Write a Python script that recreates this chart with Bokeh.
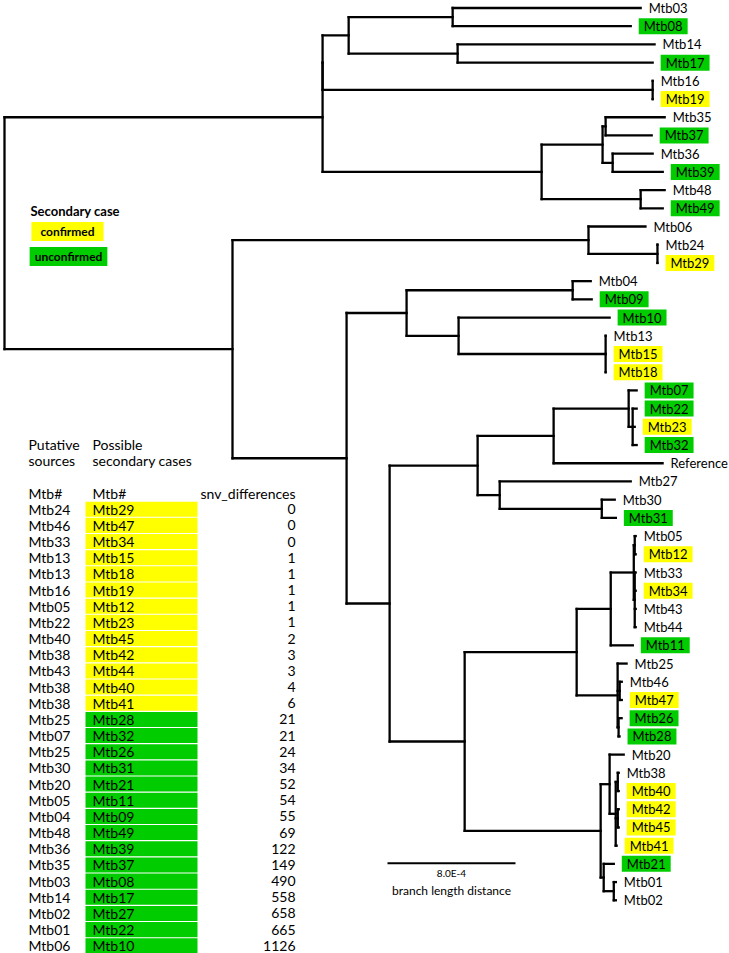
from bokeh.plotting import figure
from bokeh.models import Range1d, ColumnDataSource
from bokeh.embed import file_html
from bokeh.resources import INLINE
from bokeh.core.properties import value

# ---------------- data ----------------
# phylogeny: node, parent, branch length (units of 1e-4)
NODE = ["root",
        "A", "A12", "A1", "A1a", "Mtb03", "Mtb08", "A1b", "Mtb14", "Mtb17",
        "A2", "Mtb16", "Mtb19",
        "A3", "A3a", "A3a1", "Mtb35", "Mtb37", "A3a2", "Mtb36", "Mtb39", "A3b", "Mtb48", "Mtb49",
        "B", "B1", "Mtb06", "B1b", "Mtb24", "Mtb29",
        "B2", "B2a", "B2a1", "Mtb04", "Mtb09", "B2a2", "Mtb10", "B2a2b", "Mtb13", "Mtb15", "Mtb18",
        "B2b", "B2b1", "B2b1a", "B2b1a1", "Mtb07", "X", "Mtb22", "Mtb23", "Mtb32", "Reference",
        "B2b1b", "Mtb27", "B2b1b2", "Mtb30", "Mtb31",
        "B2b2", "B2b2a", "B2b2a1", "C", "C1", "Mtb05", "Mtb12", "C2", "Mtb33", "Mtb34", "Mtb43", "Mtb44",
        "Mtb11",
        "B2b2a2", "Mtb25", "D1", "Mtb46", "Mtb47", "D2", "Mtb26", "Mtb28",
        "B2b2b", "E1", "Mtb20", "E1b", "E1b1", "Mtb38", "Mtb40", "E1b2", "Mtb42", "Mtb45", "Mtb41",
        "E2", "Mtb21", "E2b", "Mtb01", "Mtb02"]
PARENT = [None,
          "root", "A", "A12", "A1", "A1a", "A1a", "A1", "A1b", "A1b",
          "A12", "A2", "A2",
          "A", "A3", "A3a", "A3a1", "A3a1", "A3a", "A3a2", "A3a2", "A3", "A3b", "A3b",
          "root", "B", "B1", "B1", "B1b", "B1b",
          "B", "B2", "B2a", "B2a1", "B2a1", "B2a", "B2a2", "B2a2", "B2a2b", "B2a2b", "B2a2b",
          "B2", "B2b", "B2b1", "B2b1a", "B2b1a1", "B2b1a1", "X", "X", "X", "B2b1a",
          "B2b1", "B2b1b", "B2b1b", "B2b1b2", "B2b1b2",
          "B2b", "B2b2", "B2b2a", "B2b2a1", "C", "C1", "C1", "C", "C2", "C2", "C2", "C2",
          "B2b2a1",
          "B2b2a", "B2b2a2", "B2b2a2", "D1", "D1", "B2b2a2", "D2", "D2",
          "B2b2", "B2b2b", "E1", "E1", "E1b", "E1b1", "E1b1", "E1b", "E1b2", "E1b2", "E1b",
          "B2b2b", "E2", "E2", "E2b", "E2b"]
BRANCH = [0.0,
          19.88, 0.0, 1.63, 6.5, 11.75, 11.13, 6.81, 12.31, 12.19,
          20.63, 0.0, 0.0,
          13.69, 3.81, 0.19, 3.69, 2.88, 0.63, 2.5, 3.13, 6.19, 1.5, 1.38,
          14.25, 22.25, 3.56, 4.31, 0.0, 0.0,
          7.13, 3.75, 10.38, 1.13, 1.19, 3.25, 9.44, 9.19, 0.0, 0.0, 0.0,
          2.69, 5.5, 4.75, 4.69, 0.5, 0.25, 0.25, 0.13, 0.25, 6.81,
          1.38, 8.19, 6.38, 0.81, 0.88,
          4.69, 7.0, 2.13, 1.44, 0.06, 0.06, 0.06, 0.06, 0.06, 0.06, 0.06, 0.06,
          1.38,
          2.56, 0.56, 0.13, 0.13, 0.13, 0.06, 0.19, 0.06,
          8.5, 0.56, 0.88, 0.38, 0.13, 0.06, 0.06, 0.13, 0.06, 0.06, 0.06,
          0.19, 0.63, 0.63, 0.13, 0.13]

TREE_CONFIRMED = ["Mtb19", "Mtb29", "Mtb15", "Mtb18", "Mtb23", "Mtb12", "Mtb34",
                  "Mtb47", "Mtb40", "Mtb42", "Mtb45", "Mtb41"]
TREE_UNCONFIRMED = ["Mtb08", "Mtb17", "Mtb37", "Mtb39", "Mtb49", "Mtb09", "Mtb10", "Mtb07",
                    "Mtb22", "Mtb32", "Mtb31", "Mtb11", "Mtb26", "Mtb28", "Mtb21"]

SOURCES = ["Mtb24", "Mtb46", "Mtb33", "Mtb13", "Mtb13", "Mtb16", "Mtb05", "Mtb22", "Mtb40",
           "Mtb38", "Mtb43", "Mtb38", "Mtb38", "Mtb25", "Mtb07", "Mtb25", "Mtb30", "Mtb20",
           "Mtb05", "Mtb04", "Mtb48", "Mtb36", "Mtb35", "Mtb03", "Mtb14", "Mtb02", "Mtb01", "Mtb06"]
SECONDARY = ["Mtb29", "Mtb47", "Mtb34", "Mtb15", "Mtb18", "Mtb19", "Mtb12", "Mtb23", "Mtb45",
             "Mtb42", "Mtb44", "Mtb40", "Mtb41", "Mtb28", "Mtb32", "Mtb26", "Mtb31", "Mtb21",
             "Mtb11", "Mtb09", "Mtb49", "Mtb39", "Mtb37", "Mtb08", "Mtb17", "Mtb27", "Mtb22", "Mtb10"]
SNV = [0, 0, 0, 1, 1, 1, 1, 1, 2, 3, 3, 4, 6, 21, 21, 24, 34, 52, 54, 55, 69, 122, 149,
       490, 558, 658, 665, 1126]
STATUS = ["confirmed"] * 13 + ["unconfirmed"] * 15

SCALE_BAR = 8.0          # in units of 1e-4
SCALE_LABEL = "8.0E-4"

COLORS = {"confirmed": "#ffff00", "unconfirmed": "#00cc00"}
FONT = "Lato"

# ---------------- tree layout ----------------
children = {n: [] for n in NODE}
par = dict(zip(NODE, PARENT))
blen = dict(zip(NODE, BRANCH))
for n, pa in zip(NODE, PARENT):
    if pa is not None:
        children[pa].append(n)

depth, ypos, leaves = {}, {}, []

def place(n, d):
    depth[n] = d
    if not children[n]:
        ypos[n] = len(leaves)
        leaves.append(n)
    else:
        for c in children[n]:
            place(c, d + blen[c])
        ypos[n] = (ypos[children[n][0]] + ypos[children[n][-1]]) / 2.0

place("root", 0.0)

x0, y0, x1, y1 = [], [], [], []
for n in NODE:
    if par[n] is not None:
        x0.append(depth[par[n]]); x1.append(depth[n]); y0.append(ypos[n]); y1.append(ypos[n])
    if children[n]:
        x0.append(depth[n]); x1.append(depth[n])
        y0.append(ypos[children[n][0]]); y1.append(ypos[children[n][-1]])

# ---------------- figure ----------------
W, H = 729, 953
ROW0, ROWH = 7.5, 18.21          # pixel position of first leaf row and leaf spacing
TROW0, TROWH = 508.7, 16.17      # table first row and row spacing
p = figure(width=W, height=H, x_range=Range1d(0, W), y_range=Range1d(H, 0),
           x_axis_type=None, y_axis_type=None, output_backend="svg", toolbar_location=None,
           min_border=0, outline_line_color=None)
p.extra_x_ranges = {"tree": Range1d(-4 / 16, (W - 4) / 16)}
p.extra_y_ranges = {"tree": Range1d((H - ROW0) / ROWH, -ROW0 / ROWH),
                    "table": Range1d((H - TROW0) / TROWH, -TROW0 / TROWH)}

p.segment(x0, y0, x1, y1, x_range_name="tree", y_range_name="tree",
          line_color="black", line_width=2.3, line_cap="square")

plain = [l for l in leaves if l not in TREE_CONFIRMED and l not in TREE_UNCONFIRMED]
hi = [l for l in leaves if l in TREE_CONFIRMED or l in TREE_UNCONFIRMED]
src_plain = ColumnDataSource(dict(x=[depth[l] for l in plain], y=[ypos[l] for l in plain], t=plain))
src_hi = ColumnDataSource(dict(x=[depth[l] for l in hi], y=[ypos[l] for l in hi], t=hi,
                               bg=[COLORS["confirmed"] if l in TREE_CONFIRMED else COLORS["unconfirmed"]
                                   for l in hi]))
p.text(x="x", y="y", text="t", source=src_plain, x_range_name="tree", y_range_name="tree",
       x_offset=8, text_baseline="middle", text_align="left", text_font=value(FONT),
       text_font_size="13px", text_color="black")
p.text(x="x", y="y", text="t", source=src_hi, x_range_name="tree", y_range_name="tree",
       x_offset=8, text_baseline="middle", text_align="left", text_font=value(FONT),
       text_font_size="13px", text_color="black", background_fill_color="bg",
       padding=dict(left=5, right=5, top=0, bottom=0))

# scale bar
sb_start = (387 - 4) / 16
p.segment(x0=[sb_start], y0=[862.7], x1=[sb_start + SCALE_BAR], y1=[862.7],
          x_range_name="tree", line_color="black", line_width=2)
p.text(x=[sb_start + SCALE_BAR / 2], y=[872.5], text=[SCALE_LABEL], x_range_name="tree",
       text_align="center", text_baseline="middle", text_font=value(FONT), text_font_size="10px")
p.text(x=[sb_start + SCALE_BAR / 2], y=[890], text=["branch length distance"], x_range_name="tree",
       text_align="center", text_baseline="middle", text_font=value(FONT), text_font_size="12px")

# legend
p.text(x=[30], y=[210], text=["Secondary case"], text_baseline="middle", text_font=value(FONT),
       text_font_size="13px", text_font_style="bold")
p.text(x=[67], y=[231], text=["confirmed"],
       text_align="center", text_baseline="middle", text_font=value(FONT), text_font_size="12px",
       text_font_style="bold", background_fill_color=COLORS["confirmed"],
       padding=dict(left=9, right=9, top=2, bottom=2))
p.text(x=[68], y=[256], text=["unconfirmed"],
       text_align="center", text_baseline="middle", text_font=value(FONT), text_font_size="12px",
       text_font_style="bold", background_fill_color=COLORS["unconfirmed"],
       padding=dict(left=5, right=5, top=2, bottom=2))

# table
rows = list(range(len(SOURCES)))
tsrc = ColumnDataSource(dict(row=rows, src=SOURCES, sec=SECONDARY, snv=[str(v) for v in SNV],
                             bg=[COLORS[s] for s in STATUS]))
p.rect(x=141, y="row", width=112, height=0.93, source=tsrc, y_range_name="table",
       fill_color="bg", line_color=None)
common = dict(source=tsrc, y_range_name="table", text_baseline="middle",
              text_font=value(FONT), text_font_size="14px", text_color="black")
p.text(x=28, y="row", text="src", **common)
p.text(x=92, y="row", text="sec", **common)
p.text(x=295, y="row", text="snv", text_align="right", **common)

hdr = dict(y_range_name="table", text_baseline="middle", text_font=value(FONT),
           text_font_size="14px", text_color="black")
p.text(x=[28, 28, 28], y=[-4, -3, -1], text=["Putative", "sources", "Mtb#"], **hdr)
p.text(x=[92, 92, 92], y=[-4, -3, -1], text=["Possible", "secondary cases", "Mtb#"], **hdr)
p.text(x=[295], y=[-1], text=["snv_differences"], text_align="right", **hdr)

open("out.html", "w").write(file_html(p, INLINE))
